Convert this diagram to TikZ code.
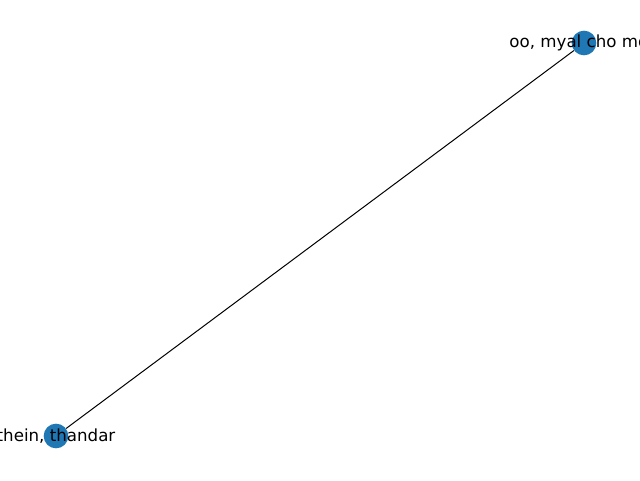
\documentclass[tikz,border=0pt]{standalone}
\usepackage{fontspec}
\setmainfont{DejaVu Sans}
\definecolor{nodeblue}{HTML}{1F77B4}
\begin{document}
\begin{tikzpicture}[x=0.75pt,y=-0.75pt,
  vertex/.style={circle,fill=nodeblue,draw=none,minimum size=18.5pt,inner sep=0pt},
  lab/.style={font=\fontsize{12.5pt}{15pt}\selectfont,text=black,inner sep=0pt},
  edge/.style={draw=black,line width=0.75pt}]
\useasboundingbox (0,0) rectangle (640,480);
\clip (0,0) rectangle (640,480);
\node[vertex] (a) at (584,43) {};
\node[vertex] (b) at (56,436) {};
\draw[edge] (a) -- (b);
\node[lab] (la) at (a) {oo, myal cho moe};
\node[lab] (lb) at (b) {thein, thandar};
\end{tikzpicture}
\end{document}
